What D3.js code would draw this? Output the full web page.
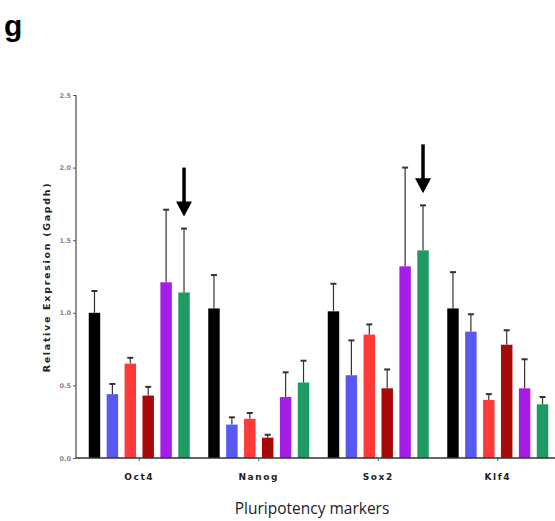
<!DOCTYPE html>
<html>
<head>
<meta charset="utf-8">
<script src="https://cdn.jsdelivr.net/npm/d3@7"></script>
<style>
  body { margin: 0; background: #fff; }
  svg { display: block; }
</style>
</head>
<body>
<svg id="chart" width="555" height="521"></svg>
<script>
// pluripotency markers on the x axis
const markers = ['Oct4', 'Nanog', 'Sox2', 'Klf4']
// six samples per marker (no legend in the figure)
const samples = ['s1', 's2', 's3', 's4', 's5', 's6']
const sampleColors = ['#000000', '#5858f2', '#ff3a3a', '#a80a0a', '#a51ee8', '#1f9a62']

// mean relative expression, one array per marker
const oct4Mean = [1.0, 0.44, 0.65, 0.43, 1.21, 1.14]
const nanogMean = [1.03, 0.23, 0.27, 0.14, 0.42, 0.52]
const sox2Mean = [1.01, 0.57, 0.85, 0.48, 1.32, 1.43]
const klf4Mean = [1.03, 0.87, 0.40, 0.78, 0.48, 0.37]

// upper end of the error bar
const oct4Err = [1.15, 0.51, 0.69, 0.49, 1.71, 1.58]
const nanogErr = [1.26, 0.28, 0.31, 0.16, 0.59, 0.67]
const sox2Err = [1.20, 0.81, 0.92, 0.61, 2.00, 1.74]
const klf4Err = [1.28, 0.99, 0.44, 0.88, 0.68, 0.42]

const yTicks = [0, 0.5, 1.0, 1.5, 2.0, 2.5]
// bars marked with an arrow: [marker, sample]
const arrows = [['Oct4', 's6'], ['Sox2', 's6']]

const means = [oct4Mean, nanogMean, sox2Mean, klf4Mean]
const errs = [oct4Err, nanogErr, sox2Err, klf4Err]
const rows = []
markers.forEach((m, i) => {
  samples.forEach((s, j) => {
    rows.push({ marker: m, sample: s, value: means[i][j], err: errs[i][j], color: sampleColors[j] })
  })
})

const svg = d3.select('#chart')
const axisX = 76
const axisRight = 555
const y0 = 458

const x = d3.scaleBand().domain(markers).range([79.5, 557.5]).paddingInner(0).paddingOuter(0)
const xInner = d3.scaleBand().domain(samples).range([-50.5, 50.5]).paddingInner(0.36).paddingOuter(0)
const y = d3.scaleLinear().domain([0, 2.5]).range([y0, 95])

const barX = (d) => x(d.marker) + x.bandwidth() / 2 + xInner(d.sample)

// panel label
svg.append('text')
  .attr('x', 4).attr('y', 36)
  .attr('font-family', 'Liberation Sans, Arial, sans-serif')
  .attr('font-weight', 'bold')
  .attr('font-size', 30)
  .text('g')

// bars
svg.append('g')
  .selectAll('rect')
  .data(rows)
  .enter()
  .append('rect')
  .attr('x', barX)
  .attr('y', (d) => y(d.value))
  .attr('width', xInner.bandwidth())
  .attr('height', (d) => y(0) - y(d.value))
  .attr('fill', (d) => d.color)

// error bars (upper only)
const eb = svg.append('g').attr('stroke', '#333').attr('stroke-width', 1.2)
eb.selectAll('line.stem')
  .data(rows)
  .enter()
  .append('line')
  .attr('class', 'stem')
  .attr('x1', (d) => barX(d) + xInner.bandwidth() / 2)
  .attr('x2', (d) => barX(d) + xInner.bandwidth() / 2)
  .attr('y1', (d) => y(d.value))
  .attr('y2', (d) => y(d.err))
eb.selectAll('line.cap')
  .data(rows)
  .enter()
  .append('line')
  .attr('class', 'cap')
  .attr('stroke-width', 2)
  .attr('x1', (d) => barX(d) + xInner.bandwidth() / 2 - 3)
  .attr('x2', (d) => barX(d) + xInner.bandwidth() / 2 + 3)
  .attr('y1', (d) => y(d.err))
  .attr('y2', (d) => y(d.err))

// y axis
const yAxis = svg.append('g')
  .attr('transform', `translate(${axisX},0)`)
  .call(d3.axisLeft(y).tickValues(yTicks).tickSize(3).tickFormat(d3.format('.1f')))
yAxis.select('.domain').attr('stroke', '#555').attr('stroke-width', 1.3).attr('d', `M0,${y(2.5)}V${y0}`)
yAxis.selectAll('.tick line').attr('stroke', '#555')
yAxis.selectAll('.tick text')
  .attr('font-family', 'DejaVu Sans, sans-serif')
  .attr('font-size', 6.5)
  .attr('font-weight', 'bold')
  .attr('fill', '#888')
  .attr('x', -5)

// x axis
const xAxis = svg.append('g')
  .attr('transform', `translate(0,${y0})`)
  .call(d3.axisBottom(x).tickSize(3).tickFormat(''))
xAxis.select('.domain').attr('stroke', '#333').attr('stroke-width', 1.6).attr('d', `M${axisX},0H${axisRight}`)
xAxis.selectAll('.tick line').attr('stroke', '#555')

svg.append('g')
  .selectAll('text')
  .data(markers)
  .enter()
  .append('text')
  .attr('x', (d) => x(d) + x.bandwidth() / 2)
  .attr('y', 480)
  .attr('text-anchor', 'middle')
  .attr('font-family', 'DejaVu Sans, sans-serif')
  .attr('font-weight', 'bold')
  .attr('font-size', 9)
  .attr('letter-spacing', 1.6)
  .attr('fill', '#222')
  .text((d) => d)

// axis titles
svg.append('text')
  .attr('transform', 'translate(50,277) rotate(-90)')
  .attr('text-anchor', 'middle')
  .attr('font-family', 'DejaVu Sans, sans-serif')
  .attr('font-weight', 'bold')
  .attr('font-size', 9.5)
  .attr('letter-spacing', 1.7)
  .attr('fill', '#222')
  .text('Relative Expresion (Gapdh)')

svg.append('text')
  .attr('x', 312)
  .attr('y', 514)
  .attr('text-anchor', 'middle')
  .attr('font-family', 'Open Sans, sans-serif')
  .attr('font-size', 15.5)
  .attr('fill', '#222')
  .text('Pluripotency markers')

// arrows above marked bars
const arrowRows = arrows.map(([m, s]) => rows.find((r) => r.marker === m && r.sample === s))
const ag = svg.append('g')
arrowRows.forEach((d) => {
  const cx = barX(d) + xInner.bandwidth() / 2
  const tip = y(d.err) - 12
  ag.append('line')
    .attr('x1', cx).attr('x2', cx)
    .attr('y1', tip - 49).attr('y2', tip - 12)
    .attr('stroke', '#000').attr('stroke-width', 3.5)
  ag.append('path')
    .attr('d', `M${cx - 8},${tip - 15}L${cx + 8},${tip - 15}L${cx},${tip}Z`)
    .attr('fill', '#000')
})
</script>
</body>
</html>
